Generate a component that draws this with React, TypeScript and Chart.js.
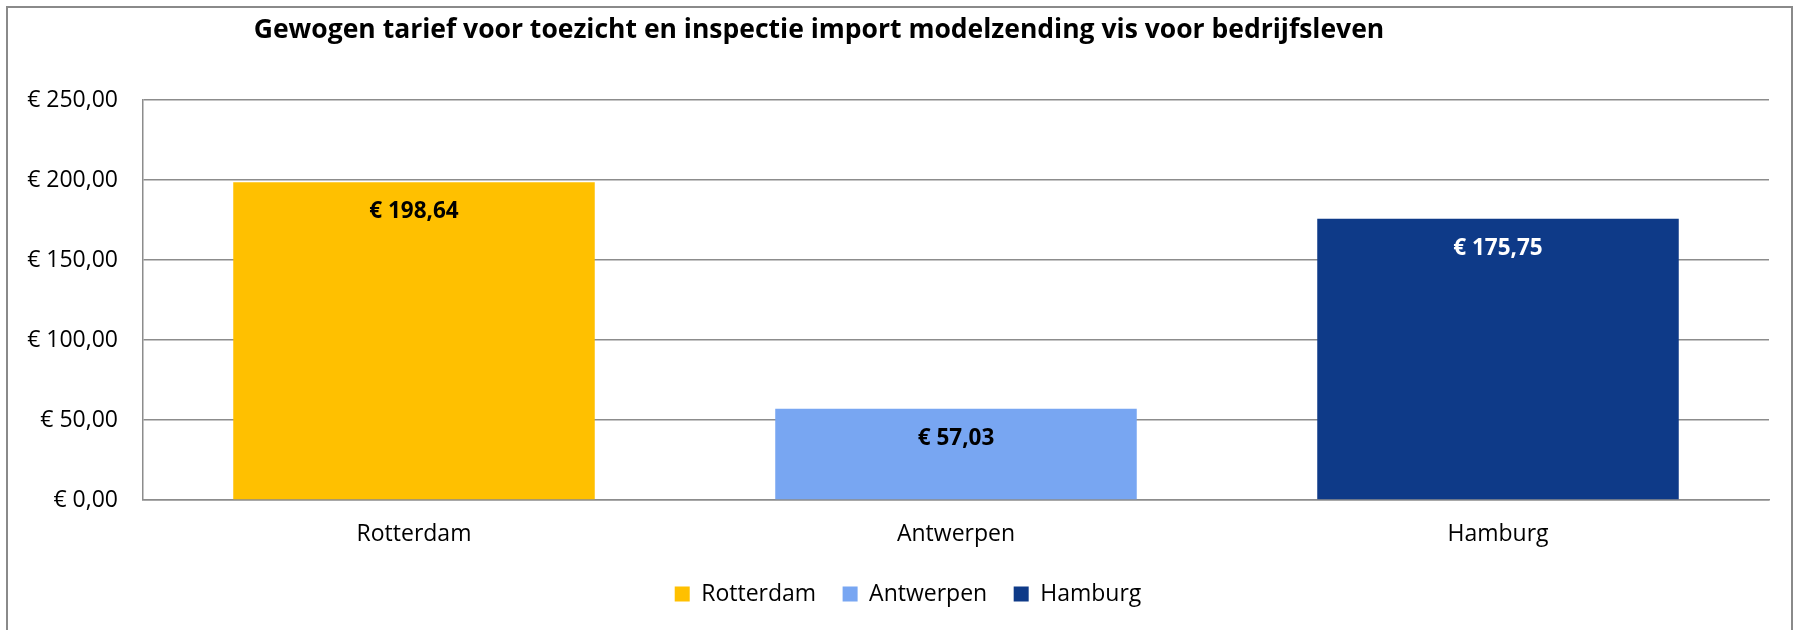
import React, { useEffect, useRef } from "react";
import { Chart, registerables } from "chart.js";

Chart.register(...registerables);

const TITLE = "Gewogen tarief voor toezicht en inspectie import modelzending vis voor bedrijfsleven";
const categories = ["Rotterdam", "Antwerpen", "Hamburg"];
const values = [198.64, 57.03, 175.75];
const barColors = ["#FFC000", "#78A6F2", "#0E3A88"];
const labelColors = ["#000000", "#000000", "#FFFFFF"];
const yTicks = [0, 50, 100, 150, 200, 250];

const FONT = "'Open Sans', 'Noto Sans', sans-serif";
const GRID = "#8c8c8c";

const euro = (v: number) => "€ " + v.toFixed(2).replace(".", ",");

export default function App() {
  const ref = useRef<HTMLCanvasElement | null>(null);

  useEffect(() => {
    if (!ref.current) return;

    const titlePlugin = {
      id: "customTitle",
      afterDraw(chart: any) {
        const ctx = chart.ctx;
        ctx.save();
        ctx.font = `bold 26.5px ${FONT}`;
        ctx.fillStyle = "#000";
        ctx.textAlign = "center";
        ctx.textBaseline = "alphabetic";
        ctx.fillText(TITLE, 819, 38);
        ctx.restore();
      },
    };

    const legendShift = {
      id: "legendShift",
      afterLayout(chart: any) {
        const lg = chart.legend;
        if (lg) {
          lg.left += 23.5;
          lg.right += 23.5;
        }
      },
    };

    const valueLabels = {
      id: "valueLabels",
      afterDatasetsDraw(chart: any) {
        const ctx = chart.ctx;
        const meta = chart.getDatasetMeta(0);
        ctx.save();
        ctx.font = `bold 22.5px ${FONT}`;
        ctx.textAlign = "center";
        ctx.textBaseline = "alphabetic";
        meta.data.forEach((bar: any, i: number) => {
          ctx.fillStyle = labelColors[i];
          ctx.fillText(euro(values[i]), bar.x, bar.y + 36);
        });
        ctx.restore();
      },
    };

    const chart = new Chart(ref.current, {
      type: "bar",
      data: {
        labels: categories,
        datasets: [
          {
            data: values,
            backgroundColor: barColors,
            categoryPercentage: 1,
            barPercentage: 0.667,
          },
        ],
      },
      options: {
        responsive: false,
        animation: false,
        layout: { padding: { left: 0, right: 24, top: 100, bottom: 14.5 } },
        plugins: {
          title: { display: false },
          tooltip: { enabled: false },
          legend: {
            position: "bottom",
            labels: {
              font: { family: FONT, size: 23 },
              color: "#000",
              boxWidth: 15,
              boxHeight: 15,
              padding: 26.5,
              generateLabels: () =>
                categories.map((c, i) => ({
                  text: c,
                  fillStyle: barColors[i],
                  strokeStyle: barColors[i],
                  lineWidth: 0,
                  hidden: false,
                  index: i,
                  datasetIndex: 0,
                  fontColor: "#000",
                })),
            },
          },
        },
        scales: {
          x: {
            grid: { display: false, drawTicks: false },
            border: { display: true, color: GRID, width: 1.5 },
            ticks: { font: { family: FONT, size: 23 }, color: "#000", padding: 21 },
            afterFit: (s: any) => {
              s.height = 56;
            },
          },
          y: {
            min: 0,
            max: 250,
            afterBuildTicks: (s: any) => {
              s.ticks = yTicks.map((v) => ({ value: v }));
            },
            grid: { color: GRID, lineWidth: 1.5, drawTicks: false },
            border: { display: true, color: GRID, width: 1.5 },
            ticks: {
              font: { family: FONT, size: 23 },
              color: "#000",
              padding: 25,
              callback: (v: any) => euro(Number(v)),
            },
            afterFit: (s: any) => {
              s.width = 143;
            },
          },
        },
      },
      plugins: [titlePlugin, legendShift, valueLabels],
    });

    return () => chart.destroy();
  }, []);

  return (
    <div style={{ position: "fixed", left: 0, top: 0, width: 1793, height: 630, background: "#fff" }}>
      <canvas ref={ref} width={1793} height={630} style={{ position: "absolute", left: 0, top: 0 }} />
      <div
        style={{
          position: "absolute",
          left: 6,
          top: 6,
          width: 1783,
          height: 640,
          border: "2px solid #8a8a8a",
          pointerEvents: "none",
        }}
      />
    </div>
  );
}
